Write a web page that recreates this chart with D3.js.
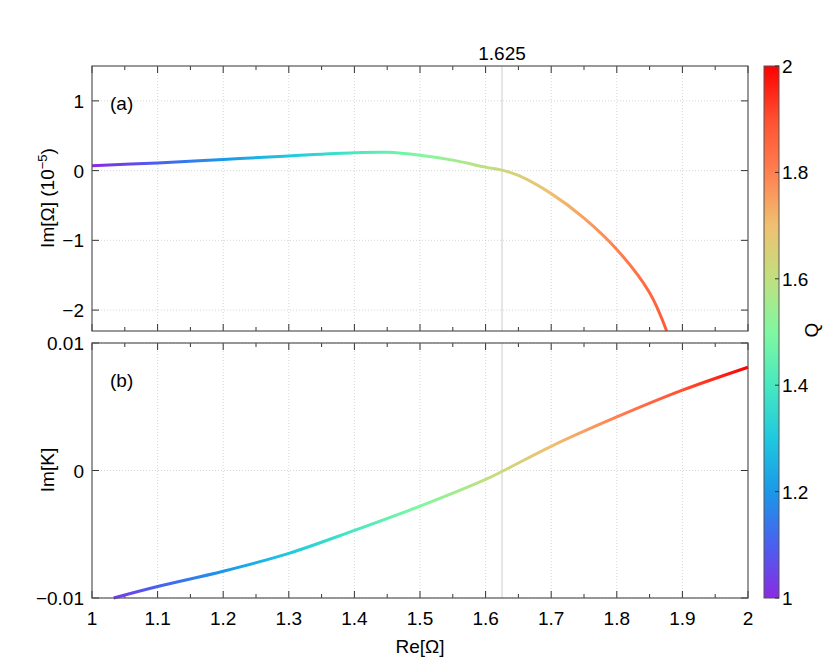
<!DOCTYPE html>
<html>
<head>
<style>
  body { margin: 0; background: #fff; }
  text { font-family: "Liberation Sans", Arial, sans-serif; }
</style>
</head>
<body>
<svg id="svg" width="830" height="664"></svg>
<script src="https://d3js.org/d3.v7.min.js"></script>
<script>
  // top panel: Im[Omega] (1e-5) vs Re[Omega]
  const reTop = [1.0, 1.1, 1.2, 1.3, 1.4, 1.45, 1.5, 1.55, 1.6, 1.628, 1.65, 1.7, 1.75, 1.8, 1.85, 1.876]
  const imOmega = [0.07, 0.11, 0.16, 0.21, 0.255, 0.262, 0.22, 0.15, 0.05, 0.0, -0.07, -0.33, -0.68, -1.13, -1.75, -2.3]
  // bottom panel: Im[K] vs Re[Omega]
  const reBot = [1.033, 1.1, 1.2, 1.3, 1.4, 1.5, 1.6, 1.628, 1.7, 1.8, 1.9, 2.0]
  const imK = [-0.01, -0.0091, -0.0079, -0.0065, -0.0047, -0.0028, -0.0007, 0.0, 0.0019, 0.0042, 0.0063, 0.0081]
  const xTicks = [1, 1.1, 1.2, 1.3, 1.4, 1.5, 1.6, 1.7, 1.8, 1.9, 2]
  const yTopTicks = [-2, -1, 0, 1]
  const yBotTicks = [-0.01, 0, 0.01]
  const qTicks = [1, 1.2, 1.4, 1.6, 1.8, 2]
  const paletteQ = [1.0, 1.1, 1.2, 1.3, 1.4, 1.5, 1.6, 1.7, 1.8, 1.9, 2.0]
  const paletteColors = ['#8a2be2', '#4a60f0', '#1a98e8', '#20c8e0', '#48e8c0', '#80f8a0', '#c0e080', '#f0c070', '#ff8050', '#ff5030', '#ff0000']
  const marker = 1.625

  const svg = d3.select('#svg')
  const L = 92, R = 748
  const x = d3.scaleLinear().domain([1, 2]).range([L, R])
  const yTop = d3.scaleLinear().domain([-2.3, 1.5]).range([331, 66])
  const yBot = d3.scaleLinear().domain([-0.01, 0.01]).range([598, 343])
  const FS = 19

  const defs = svg.append('defs')
  const grad = defs.append('linearGradient').attr('id', 'qgrad')
    .attr('gradientUnits', 'userSpaceOnUse')
    .attr('x1', x(1)).attr('x2', x(2)).attr('y1', 0).attr('y2', 0)
  paletteQ.forEach((q, i) => grad.append('stop').attr('offset', (q - 1)).attr('stop-color', paletteColors[i]))

  function panel(y, yTicks, xs, ys, label, fmt, showX) {
    const g = svg.append('g')
    const [y0, y1] = y.range()
    g.selectAll('.gx').data(xTicks.slice(1, -1)).enter().append('line')
      .attr('x1', d => x(d)).attr('x2', d => x(d)).attr('y1', y0).attr('y2', y1)
      .attr('stroke', '#bbb').attr('stroke-width', 0.6).attr('stroke-dasharray', '1,2')
    g.selectAll('.gy').data(yTicks).enter().append('line')
      .attr('x1', L).attr('x2', R).attr('y1', d => y(d)).attr('y2', d => y(d))
      .attr('stroke', '#bbb').attr('stroke-width', 0.6).attr('stroke-dasharray', '1,2')
    g.append('line').attr('x1', x(marker)).attr('x2', x(marker)).attr('y1', y0).attr('y2', y1)
      .attr('stroke', '#ccc').attr('stroke-width', 1)
    const minor = d3.range(1.05, 2, 0.1)
    const ticks = xTicks.map(d => [d, 7]).concat(minor.map(d => [d, 4]))
    ticks.forEach(([d, s]) => {
      g.append('line').attr('x1', x(d)).attr('x2', x(d)).attr('y1', y0).attr('y2', y0 - s).attr('stroke', '#333')
      g.append('line').attr('x1', x(d)).attr('x2', x(d)).attr('y1', y1).attr('y2', y1 + s).attr('stroke', '#333')
    })
    yTicks.forEach(d => {
      g.append('line').attr('x1', L).attr('x2', L + 7).attr('y1', y(d)).attr('y2', y(d)).attr('stroke', '#333')
      g.append('line').attr('x1', R).attr('x2', R - 7).attr('y1', y(d)).attr('y2', y(d)).attr('stroke', '#333')
      g.append('text').attr('x', L - 8).attr('y', y(d) + 7).attr('text-anchor', 'end')
        .attr('font-size', FS).text(fmt(d))
    })
    if (showX) {
      xTicks.forEach(d => g.append('text').attr('x', x(d)).attr('y', y0 + 27).attr('text-anchor', 'middle')
        .attr('font-size', FS).text(d3.format('~g')(d)))
    }
    const pts = xs.map((v, i) => [v, ys[i]])
    g.append('path').datum(pts)
      .attr('d', d3.line().x(d => x(d[0])).y(d => y(d[1])).curve(d3.curveCatmullRom.alpha(0.5)))
      .attr('fill', 'none').attr('stroke', 'url(#qgrad)').attr('stroke-width', 3)
    g.append('rect').attr('x', L).attr('y', y1).attr('width', R - L).attr('height', y0 - y1)
      .attr('fill', 'none').attr('stroke', '#555').attr('stroke-width', 1.2)
    g.append('text').attr('x', 110).attr('y', y1 + 44).attr('font-size', FS).text(label)
  }

  const minus = s => s.replace('-', '\u2212')
  panel(yTop, yTopTicks, reTop, imOmega, '(a)', d => minus(String(d)), false)
  panel(yBot, yBotTicks, reBot, imK, '(b)', d => minus(d === 0 ? '0' : d.toFixed(2)), true)

  svg.append('text').attr('x', x(marker)).attr('y', 60).attr('text-anchor', 'middle')
    .attr('font-size', FS).text('1.625')

  const t1 = svg.append('text').attr('transform', 'translate(54,198) rotate(-90)')
    .attr('text-anchor', 'middle').attr('font-size', FS)
  t1.append('tspan').text('Im[Ω] (10')
  t1.append('tspan').attr('dy', -7).attr('font-size', 13).text('−5')
  t1.append('tspan').attr('dy', 7).text(')')
  svg.append('text').attr('transform', 'translate(54,470) rotate(-90)')
    .attr('text-anchor', 'middle').attr('font-size', FS).text('Im[K]')
  svg.append('text').attr('x', 420).attr('y', 653).attr('text-anchor', 'middle')
    .attr('font-size', FS).text('Re[Ω]')

  // colorbar
  const cbX = 764, cbW = 15
  const qScale = d3.scaleLinear().domain([1, 2]).range([598, 66])
  const cgrad = defs.append('linearGradient').attr('id', 'cbgrad')
    .attr('x1', 0).attr('x2', 0).attr('y1', 1).attr('y2', 0)
  paletteQ.forEach((q, i) => cgrad.append('stop').attr('offset', q - 1).attr('stop-color', paletteColors[i]))
  svg.append('rect').attr('x', cbX).attr('y', 66).attr('width', cbW).attr('height', 532)
    .attr('fill', 'url(#cbgrad)').attr('stroke', '#555').attr('stroke-width', 1)
  qTicks.forEach(d => {
    svg.append('line').attr('x1', cbX + cbW).attr('x2', cbX + cbW - 4).attr('y1', qScale(d)).attr('y2', qScale(d)).attr('stroke', '#333')
    svg.append('text').attr('x', cbX + cbW + 3).attr('y', qScale(d) + 7).attr('font-size', FS)
      .text(d3.format('~g')(d))
  })
  svg.append('text').attr('transform', 'translate(818,330) rotate(-90)')
    .attr('text-anchor', 'middle').attr('font-size', FS).text('Q')
</script>
</body>
</html>
